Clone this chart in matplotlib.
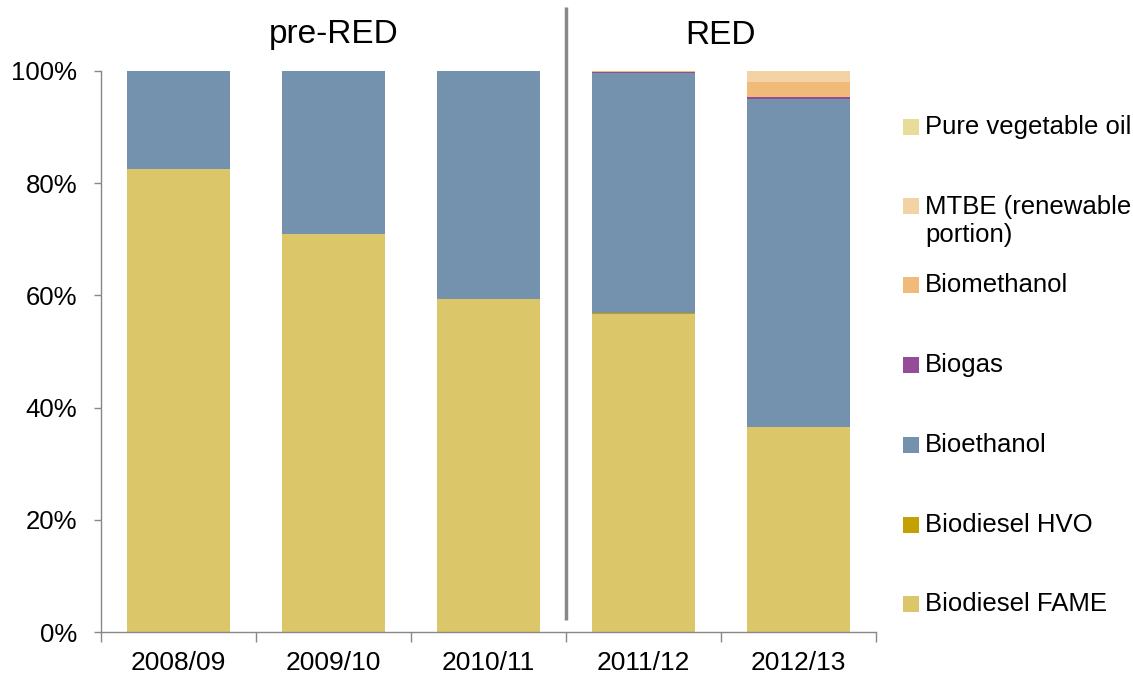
import matplotlib
matplotlib.use("Agg")
import matplotlib.pyplot as plt
from matplotlib.patches import Rectangle
from matplotlib.ticker import FixedLocator, PercentFormatter
import numpy as np

plt.rcParams['font.family'] = ['Liberation Sans', 'DejaVu Sans']

categories = ["2008/09", "2009/10", "2010/11", "2011/12", "2012/13"]
series_names = ["Biodiesel FAME", "Biodiesel HVO", "Bioethanol", "Biogas",
                "Biomethanol", "MTBE (renewable\nportion)", "Pure vegetable oil"]
biodiesel_fame = [82.5, 70.9, 59.3, 56.6, 36.5]
biodiesel_hvo = [0.0, 0.0, 0.0, 0.2, 0.0]
bioethanol = [17.5, 29.1, 40.7, 42.8, 58.5]
biogas = [0.0, 0.0, 0.0, 0.15, 0.3]
biomethanol = [0.0, 0.0, 0.0, 0.25, 2.7]
mtbe = [0.0, 0.0, 0.0, 0.0, 2.0]
pure_veg_oil = [0.0, 0.0, 0.0, 0.0, 0.0]
series_values = [biodiesel_fame, biodiesel_hvo, bioethanol, biogas, biomethanol, mtbe, pure_veg_oil]
colors = ["#DBC76A", "#C4A000", "#7491AE", "#934B9A", "#F0BA78", "#F3D2A5", "#E8DC9A"]
period_labels = ["pre-RED", "RED"]

W, H = 1133, 679
fig = plt.figure(figsize=(W / 100, H / 100), dpi=100)
ax = fig.add_axes([101 / W, (H - 632) / H, (876 - 101) / W, (632 - 71) / H])

x = np.arange(len(categories))
bottom = np.zeros(len(categories))
for vals, col in zip(series_values, colors):
    v = np.array(vals) / 100.0
    ax.bar(x, v, width=0.67, bottom=bottom, color=col, linewidth=0)
    bottom += v

ax.set_xlim(-0.5, len(categories) - 0.5)
ax.set_ylim(0, 1)
ax.yaxis.set_major_locator(FixedLocator([0, 0.2, 0.4, 0.6, 0.8, 1.0]))
ax.yaxis.set_major_formatter(PercentFormatter(1.0, decimals=0))
ax.set_xticks(x)
ax.set_xticklabels(categories)
ax.set_xticks(np.arange(-0.5, len(categories)), minor=True)
ax.tick_params(axis='x', which='major', length=0, pad=14, labelsize=19)
ax.tick_params(axis='x', which='minor', length=7, color='#888888', width=1)
ax.tick_params(axis='y', length=5, color='#888888', width=1, labelsize=18.5, pad=12)
for s in ['top', 'right']:
    ax.spines[s].set_visible(False)
for s in ['left', 'bottom']:
    ax.spines[s].set_color('#888888')
    ax.spines[s].set_linewidth(1)

# divider line
ax.plot([2.5, 2.5], [(632 - 620) / 561, (632 - 7) / 561], color='#888888', lw=2.5,
        clip_on=False, solid_capstyle='butt')
ax.text(1, (632 - 35) / 561, period_labels[0], ha='center', va='center', fontsize=24)
ax.text(3.5, (632 - 35) / 561, period_labels[1], ha='center', va='center', fontsize=24)

# legend (manual)
legend_y = [604, 525, 445, 365, 285, 206, 127]
for name, col, yy in zip(series_names, colors, legend_y):
    fig.patches.append(Rectangle((903 / W, (H - yy - 8) / H), 16 / W, 16 / H,
                                 transform=fig.transFigure, color=col, linewidth=0))
    if '\n' in name:
        fig.text(925 / W, (H - yy + 11) / H, name, ha='left', va='top',
                 fontsize=18.5, linespacing=1.2)
    else:
        fig.text(925 / W, (H - yy) / H, name, ha='left', va='center', fontsize=18.5)

fig.savefig("out.png", dpi=100)
